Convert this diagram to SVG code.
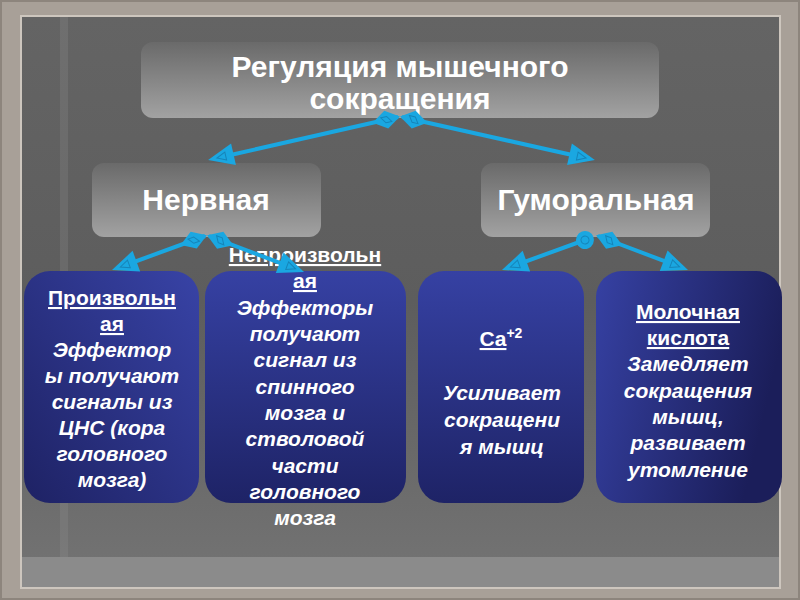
<svg xmlns="http://www.w3.org/2000/svg" width="800" height="600" viewBox="0 0 800 600">
<defs>
<style>
.gt{font-family:"Liberation Sans",Arial,sans-serif;font-weight:bold;fill:#fff;text-anchor:middle}
.t1{font-size:30px}
.t2{font-size:30px}
.bt{font-family:"Liberation Sans",Arial,sans-serif;font-weight:bold;fill:#fff;text-anchor:middle;font-size:21px}
.u{text-decoration:underline}
.i{font-style:italic}
.con{stroke:#1aa7e1;stroke-width:4;fill:none}
</style>
<linearGradient id="gbox" x1="0" y1="0" x2="0" y2="1">
<stop offset="0" stop-color="#6a6a6a"/>
<stop offset="1" stop-color="#a2a2a2"/>
</linearGradient>
<linearGradient id="b1" x1="0" y1="1" x2="1" y2="0">
<stop offset="0" stop-color="#1e2264"/>
<stop offset="1" stop-color="#3843a6"/>
</linearGradient>
<linearGradient id="bv" x1="0" y1="0" x2="0" y2="1">
<stop offset="0" stop-color="#3641a3"/>
<stop offset="1" stop-color="#1e2366"/>
</linearGradient>
<linearGradient id="b4" x1="0" y1="0" x2="1" y2="0.3">
<stop offset="0" stop-color="#3641a3"/>
<stop offset="1" stop-color="#1b1e5a"/>
</linearGradient>
<linearGradient id="bg" x1="0" y1="0" x2="0" y2="1">
<stop offset="0" stop-color="#646464"/>
<stop offset="0.5" stop-color="#5d5d5d"/>
<stop offset="1" stop-color="#747474"/>
</linearGradient>
<marker id="arr" markerUnits="userSpaceOnUse" markerWidth="60" markerHeight="60" refX="0" refY="0" orient="auto" overflow="visible">
<path d="M-20,-11 L6,0 L-20,11 z" fill="#1aa7e1"/>
<path d="M-12,-4 L-3,0 L-12,4 z" fill="none" stroke="#1684b8" stroke-width="1"/>
</marker>
<marker id="dia" markerUnits="userSpaceOnUse" markerWidth="60" markerHeight="60" refX="0" refY="0" orient="auto" overflow="visible">
<path d="M-2,0 L12,-9 L26,0 L12,9 z" fill="#1aa7e1"/>
<path d="M7,-3 L13,-3 L17,3 L11,3 z" fill="none" stroke="#1684b8" stroke-width="1"/>
</marker>
<marker id="cir" markerUnits="userSpaceOnUse" markerWidth="40" markerHeight="40" refX="0" refY="0" orient="auto" overflow="visible">
<circle cx="0" cy="0" r="9" fill="#1aa7e1"/>
<circle cx="0" cy="0" r="4" fill="none" stroke="#1684b8" stroke-width="1"/>
</marker>
</defs>

<!-- frame and background -->
<rect x="0" y="0" width="800" height="600" fill="#a8a098"/>
<rect x="21" y="16" width="759" height="572" fill="url(#bg)"/>
<rect x="21" y="557" width="759" height="31" fill="#8b8b8b"/>
<rect x="60" y="16" width="8" height="541" fill="#9a9a9a" opacity="0.2"/>
<rect x="21" y="16" width="759" height="572" fill="none" stroke="#cdc6be" stroke-width="2"/>
<rect x="1" y="1" width="798" height="598" fill="none" stroke="#8d857d" stroke-width="2"/>

<g id="node-top">
<rect x="141" y="42" width="518" height="76" rx="12" fill="url(#gbox)"/>
<text class="gt t1" x="400" y="77">Регуляция мышечного</text>
<text class="gt t1" x="400" y="109">сокращения</text>
</g>

<g id="node-nervnaya">
<rect x="92" y="163" width="229" height="74" rx="12" fill="url(#gbox)"/>
<text class="gt t2" x="206" y="210">Нервная</text>
</g>

<g id="node-gumoralnaya">
<rect x="481" y="163" width="229" height="74" rx="12" fill="url(#gbox)"/>
<text class="gt t2" x="596" y="210">Гуморальная</text>
</g>

<g id="node-proizvolnaya">
<rect x="24" y="271" width="175" height="232" rx="26" fill="url(#b1)"/>
<text class="bt u" x="112" y="305">Произвольн</text>
<text class="bt u" x="112" y="331">ая</text>
<text class="bt i" x="112" y="357">Эффектор</text>
<text class="bt i" x="112" y="383">ы получают</text>
<text class="bt i" x="112" y="409">сигналы из</text>
<text class="bt i" x="112" y="435">ЦНС (кора</text>
<text class="bt i" x="112" y="461">головного</text>
<text class="bt i" x="112" y="487">мозга)</text>
</g>

<g id="node-neproizvolnaya">
<rect x="205" y="271" width="201" height="232" rx="26" fill="url(#bv)"/>
<text class="bt u" x="305" y="262">Непроизвольн</text>
<text class="bt u" x="305" y="288">ая</text>
<text class="bt i" x="305" y="315">Эффекторы</text>
<text class="bt i" x="305" y="341">получают</text>
<text class="bt i" x="305" y="367">сигнал из</text>
<text class="bt i" x="305" y="394">спинного</text>
<text class="bt i" x="305" y="420">мозга и</text>
<text class="bt i" x="305" y="446">стволовой</text>
<text class="bt i" x="305" y="473">части</text>
<text class="bt i" x="305" y="499">головного</text>
<text class="bt i" x="305" y="525">мозга</text>
</g>

<g id="node-ca">
<rect x="418" y="271" width="166" height="232" rx="26" fill="url(#bv)"/>
<text class="bt" x="501" y="346"><tspan class="u">Ca</tspan><tspan font-size="14" dy="-8">+2</tspan></text>
<text class="bt i" x="502" y="400">Усиливает</text>
<text class="bt i" x="502" y="427">сокращени</text>
<text class="bt i" x="502" y="454">я мышц</text>
</g>

<g id="node-lactic">
<rect x="596" y="271" width="186" height="232" rx="26" fill="url(#b4)"/>
<text class="bt u" x="688" y="319">Молочная</text>
<text class="bt u" x="688" y="345">кислота</text>
<text class="bt i" x="688" y="371">Замедляет</text>
<text class="bt i" x="688" y="398">сокращения</text>
<text class="bt i" x="688" y="424">мышц,</text>
<text class="bt i" x="688" y="450">развивает</text>
<text class="bt i" x="688" y="477">утомление</text>
</g>

<g id="connectors">
<line class="con" x1="398" y1="117" x2="214" y2="158.7" marker-start="url(#dia)" marker-end="url(#arr)"/>
<line class="con" x1="402" y1="117" x2="589" y2="158.7" marker-start="url(#dia)" marker-end="url(#arr)"/>
<line class="con" x1="205" y1="236" x2="117.6" y2="268" marker-start="url(#dia)" marker-end="url(#arr)"/>
<line class="con" x1="209" y1="236" x2="298.4" y2="269.9" marker-start="url(#dia)" marker-end="url(#arr)"/>
<line class="con" x1="585" y1="240" x2="507.6" y2="268" marker-start="url(#cir)" marker-end="url(#arr)"/>
<line class="con" x1="598" y1="236" x2="682.4" y2="267.9" marker-start="url(#dia)" marker-end="url(#arr)"/>
</g>
</svg>
